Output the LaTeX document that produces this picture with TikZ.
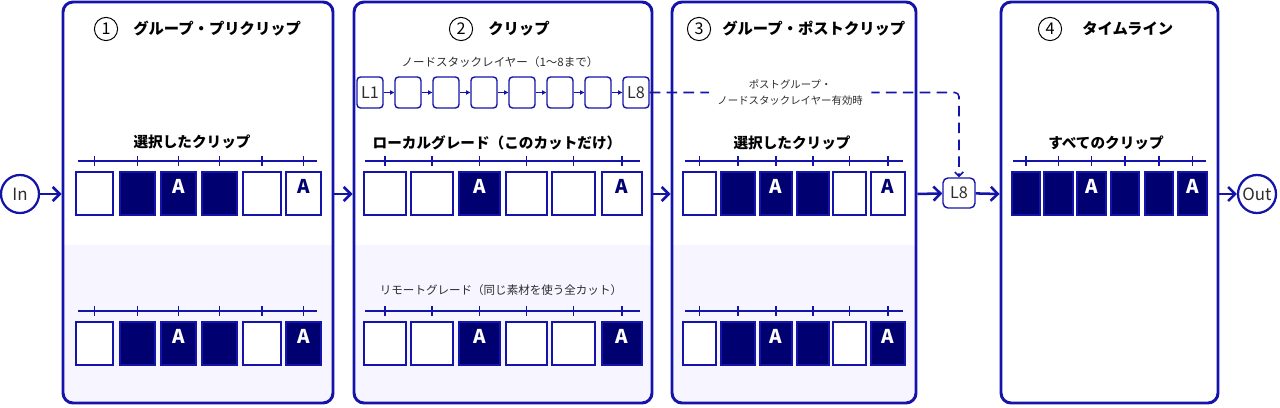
\documentclass[tikz,border=0pt]{standalone}
\usepackage{fontspec}
\setmainfont{Noto Sans CJK JP}
\usetikzlibrary{arrows.meta,fit,positioning}

\definecolor{edge}{RGB}{20,20,170}
\definecolor{navy}{RGB}{0,0,112}
\definecolor{bandc}{RGB}{247,245,255}
\definecolor{ink}{RGB}{45,45,45}

\tikzset{
  panel/.style={draw=edge, line width=2.1pt, rounded corners=0.25cm, inner sep=0pt},
  num/.style={circle, draw=black, line width=0.7pt, minimum size=0.58cm, inner sep=0pt, font=\fontsize{11.5}{12}\selectfont},
  ptitle/.style={anchor=west, inner xsep=0pt, font=\bfseries\fontsize{10.9}{12}\selectfont},
  heading/.style={font=\bfseries\fontsize{10.4}{12}\selectfont},
  note/.style={text=ink, font=\fontsize{8.2}{10}\selectfont},
  tline/.style={draw=edge, line width=1.1pt},
  wclip/.style={draw=edge, fill=white, text=navy, line width=1.4pt, inner sep=0pt, font=\bfseries\fontsize{13.5}{14}\selectfont},
  nclip/.style={wclip, fill=navy, text=white},
  layerbox/.style={draw=edge, line width=1pt, rounded corners=2.5pt, minimum width=0.65cm, minimum height=0.775cm, inner sep=0pt, text=ink, font=\fontsize{11.5}{12}\selectfont},
  port/.style={circle, draw=edge, line width=1.6pt, minimum size=0.95cm, inner sep=0pt, text=ink, font=\fontsize{12}{12}\selectfont},
  flow/.style={draw=edge, line width=1.8pt, -{Straight Barb[length=5pt,width=10pt]}},
  link/.style={draw=edge, line width=0.7pt, -{Triangle[length=3pt,width=3pt]}},
  postlink/.style={draw=edge, line width=1.1pt, dash pattern=on 7.5pt off 4.5pt, rounded corners=3pt, -{Straight Barb[length=3pt,width=6pt]}},
}

\begin{document}
\begin{tikzpicture}[x=0.025cm,y=-0.025cm]
\useasboundingbox (0,0) rectangle (1280,407);

% lower bands
\foreach \xa/\xb in {63/333, 354/652, 672/916}
{
  \begin{scope}
    \clip[rounded corners=0.25cm] (\xa,2) rectangle (\xb,403);
    \fill[bandc] (\xa,245) rectangle (\xb,403);
  \end{scope}
}

% panels
\node[panel, fit={(63,2) (333,403)}] (p1) {};
\node[panel, fit={(354,2) (652,403)}] (p2) {};
\node[panel, fit={(672,2) (916,403)}] (p3) {};
\node[panel, fit={(1001,2) (1218,403)}] (p4) {};

% titles
\node[num] (n1) at (106,29) {1};
\node[ptitle] (t1) at (133,29) {グループ・プリクリップ};
\node[num] (n2) at (461,29) {2};
\node[ptitle] (t2) at (488,29) {クリップ};
\node[num] (n3) at (699,29) {3};
\node[ptitle] (t3) at (722,29) {グループ・ポストクリップ};
\node[num] (n4) at (1050,29) {4};
\node[ptitle] (t4) at (1082,29) {タイムライン};

\node[heading] (h1) at (192,142) {選択したクリップ};
\node[heading] (h2) at (497,143) {ローカルグレード（このカットだけ）};
\node[heading] (h3) at (792,143) {選択したクリップ};
\node[heading] (h4) at (1106,143) {すべてのクリップ};

\node[note] (stack) at (500,62) {ノードスタックレイヤー（1〜8まで）};
\node[note] (remote) at (501,290) {リモートグレード（同じ素材を使う全カット）};

% clip rows
\foreach \row/\y/\tl/\tr/\cells in {
  a/172/78/317/{76/113/wclip/{},120/155/nclip/{},161/196/nclip/A,202/237/nclip/{},243/281/wclip/{},286/321/wclip/A},
  b/322/78/317/{76/113/wclip/{},120/155/nclip/{},161/196/nclip/A,202/237/nclip/{},243/281/wclip/{},286/321/nclip/A},
  c/172/365/640/{364/406/wclip/{},411/453/wclip/{},459/500/nclip/A,506/547/wclip/{},552/595/wclip/{},602/642/wclip/A},
  d/322/365/640/{364/406/wclip/{},411/453/wclip/{},459/500/nclip/A,506/547/wclip/{},552/595/wclip/{},602/642/nclip/A},
  e/172/685/903/{683/716/wclip/{},721/755/nclip/{},760/792/nclip/A,797/829/nclip/{},833/866/wclip/{},871/905/wclip/A},
  f/322/685/903/{683/716/wclip/{},721/755/nclip/{},760/792/nclip/A,797/829/nclip/{},833/866/wclip/{},871/905/nclip/A},
  g/172/1013/1206/{1012/1040/nclip/{},1044/1073/nclip/{},1077/1106/nclip/A,1111/1139/nclip/{},1145/1173/nclip/{},1178/1207/nclip/A}}
{
  \draw[tline] (\tl,\y-11) -- (\tr,\y-11);
  \foreach \xa/\xb/\sty/\txt [count=\i] in \cells
  {
    \draw[tline] ({(\xa+\xb)/2},\y-16) -- ++(0,10);
    \node[\sty, fit={(\xa,\y) (\xb,\y+43)}] (\row\i) {\txt};
  }
}

% node stack layers
\foreach \i/\txt in {1/L1, 2/{}, 3/{}, 4/{}, 5/{}, 6/{}, 7/{}, 8/L8}
  \node[layerbox] (l\i) at ({370+38*(\i-1)},92.5) {\txt};
\foreach \i [evaluate=\i as \j using int(\i+1)] in {1,...,7}
  \draw[link] (l\i) -- (l\j);

% in / out
\node[port] (in) at (20,194) {In};
\node[port] (out) at (1257,194) {Out};
\node[layerbox, minimum width=0.8cm, minimum height=0.75cm, rounded corners=3.5pt] (l8b) at (959,193) {L8};

\draw[flow] (in) -- (in -| p1.west);
\draw[flow] (p1.east |- in) -- (p2.west |- in);
\draw[flow] (p2.east |- in) -- (p3.west |- in);
\draw[flow] (p3.east |- in) -- (l8b);
\draw[flow] (l8b) -- (p4.west |- in);
\draw[flow] (p4.east |- in) -- (out);

\draw[postlink] (l8.east) -| node[pos=0.227, fill=white, inner xsep=6pt, align=center, text=ink, font=\fontsize{7.4}{11.4}\selectfont] {ポストグループ・\\ノードスタックレイヤー有効時} (l8b.north);

\end{tikzpicture}
\end{document}
